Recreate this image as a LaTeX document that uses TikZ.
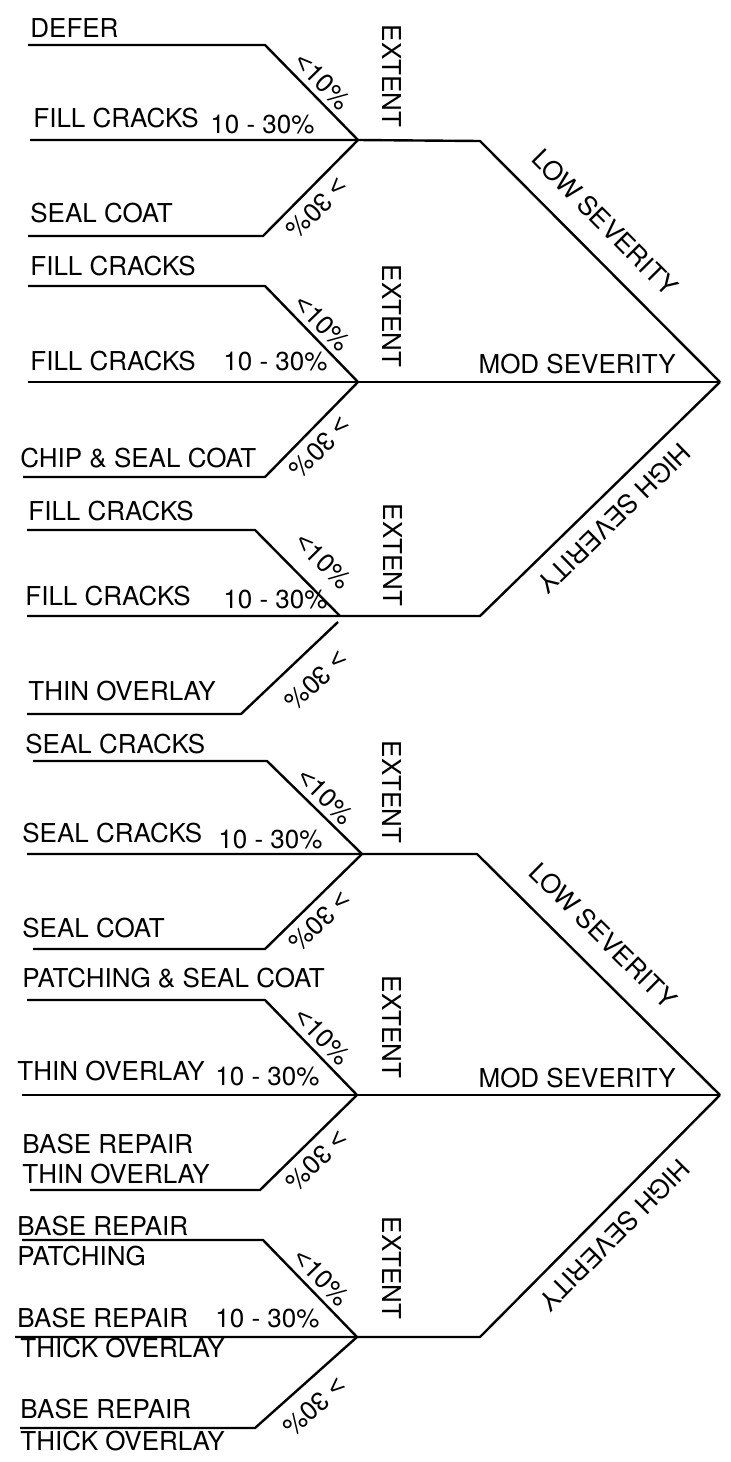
\documentclass[tikz,border=0pt]{standalone}
\usepackage{fontspec}
\setmainfont{TeX Gyre Heros}
\newfontfamily\relfont{Liberation Sans}
\newcommand{\lessthan}{{\relfont <}}
\newcommand{\morethan}{{\relfont >}}
\tikzset{
  ln/.style={line width=1.2pt, line join=round},
  lbl/.style={anchor=base west, inner sep=0pt, font=\fontsize{13}{15}\selectfont},
  pct/.style={font=\fontsize{13}{15}\selectfont, sloped, above, inner sep=2.5pt},
  pctlow/.style={pct, allow upside down, inner sep=4pt},
  ext/.style={rotate=-90, inner sep=0pt, font=\fontsize{13}{15}\selectfont},
  sev/.style={font=\fontsize{13}{15}\selectfont, sloped, above, inner sep=9.9pt},
  sevhigh/.style={sev, allow upside down, inner sep=6.3pt}
}
\begin{document}
\begin{tikzpicture}[x=0.5pt, y=-0.5pt]
  \useasboundingbox (0,0) rectangle (730,1462);

  \coordinate (a1) at (720,382);
  \coordinate (s1) at (480,141);
  \coordinate (h1) at (480,616);
  \coordinate (a2) at (720,1095);
  \coordinate (s2) at (477,854);
  \coordinate (h2) at (480,1337);

  \coordinate (u1a) at (28,45);   \coordinate (u1b) at (265,45);
  \coordinate (m1a) at (30,140);  \coordinate (j1) at (358,140);
  \coordinate (l1a) at (28,236);  \coordinate (l1b) at (263,236);

  \coordinate (u2a) at (28,286);  \coordinate (u2b) at (265,286);
  \coordinate (m2a) at (28,382);  \coordinate (j2) at (358,382);
  \coordinate (l2a) at (23,477);  \coordinate (l2b) at (265,477);

  \coordinate (u3a) at (27,530);  \coordinate (u3b) at (255,530);
  \coordinate (m3a) at (27,616);  \coordinate (j3) at (340,616);
  \coordinate (l3a) at (27,714);  \coordinate (l3b) at (241,714);
  \coordinate (l3c) at (338,622);

  \coordinate (u4a) at (33,761);  \coordinate (u4b) at (267,761);
  \coordinate (m4a) at (27,854);  \coordinate (j4) at (362,854);
  \coordinate (l4a) at (33,949);  \coordinate (l4b) at (265,949);

  \coordinate (u5a) at (27,1000); \coordinate (u5b) at (265,1000);
  \coordinate (m5a) at (22,1095); \coordinate (j5) at (357,1095);
  \coordinate (l5a) at (30,1190); \coordinate (l5b) at (260,1190);

  \coordinate (u6a) at (22,1240); \coordinate (u6b) at (263,1240);
  \coordinate (m6a) at (15,1337); \coordinate (j6) at (357,1337);
  \coordinate (l6a) at (20,1428); \coordinate (l6b) at (255,1428);

  \draw[ln] (u1a) -- (u1b) -- node[pct] (p1u) {\lessthan10\%} (j1);
  \draw[ln] (j1) -- node[pctlow, pos=0.57] (p1l) {\morethan\ 30\%} (l1b) -- (l1a);
  \draw[ln] (m1a) -- (j1) -- (s1) -- node[sev, pos=0.43] (low1) {LOW SEVERITY} (a1);

  \draw[ln] (u2a) -- (u2b) -- node[pct] (p2u) {\lessthan10\%} (j2);
  \draw[ln] (j2) -- node[pctlow, pos=0.55] (p2l) {\morethan\ 30\%} (l2b) -- (l2a);
  \draw[ln] (m2a) -- (j2) -- (a1);

  \draw[ln] (u3a) -- (u3b) -- node[pct, pos=0.58, inner sep=8pt] (p3u) {\lessthan10\%} (j3);
  \draw[ln] (l3c) -- node[pctlow, pos=0.42, inner sep=8.5pt] (p3l) {\morethan\ 30\%} (l3b) -- (l3a);
  \draw[ln] (a1) -- node[sevhigh, pos=0.51] (high1) {HIGH SEVERITY} (h1) -- (m3a);

  \draw[ln] (u4a) -- (u4b) -- node[pct] (p4u) {\lessthan10\%} (j4);
  \draw[ln] (j4) -- node[pctlow, pos=0.57] (p4l) {\morethan\ 30\%} (l4b) -- (l4a);
  \draw[ln] (m4a) -- (j4) -- (s2) -- node[sev, pos=0.43] (low2) {LOW SEVERITY} (a2);

  \draw[ln] (u5a) -- (u5b) -- node[pct] (p5u) {\lessthan10\%} (j5);
  \draw[ln] (j5) -- node[pctlow, pos=0.55] (p5l) {\morethan\ 30\%} (l5b) -- (l5a);
  \draw[ln] (m5a) -- (j5) -- (a2);

  \draw[ln] (u6a) -- (u6b) -- node[pct] (p6u) {\lessthan10\%} (j6);
  \draw[ln] (j6) -- node[pctlow, pos=0.57, inner sep=6.5pt] (p6l) {\morethan\ 30\%} (l6b) -- (l6a);
  \draw[ln] (a2) -- node[sevhigh, pos=0.51] (high2) {HIGH SEVERITY} (h2) -- (m6a);

  \node[lbl, anchor=base east] (mod1) at (676,373) {MOD SEVERITY};
  \node[lbl, anchor=base east] (mod2) at (676,1087) {MOD SEVERITY};

  \node[ext] (x1) at (392,76) {EXTENT};
  \node[ext] (x2) at (392,316) {EXTENT};
  \node[ext] (x3) at (393,555) {EXTENT};
  \node[ext] (x4) at (392,792) {EXTENT};
  \node[ext] (x5) at (392,1027) {EXTENT};
  \node[ext] (x6) at (392,1268) {EXTENT};

  \node[lbl] (n1u) at (30,37) {DEFER};
  \node[lbl] (n1m) at (33,127) {FILL CRACKS};
  \node[lbl] (r1) at (210,133) {10 - 30\%};
  \node[lbl] (n1l) at (30,222) {SEAL COAT};

  \node[lbl] (n2u) at (30,275) {FILL CRACKS};
  \node[lbl] (n2m) at (30,370) {FILL CRACKS};
  \node[lbl] (r2) at (223,370) {10 - 30\%};
  \node[lbl] (n2l) at (20,467) {CHIP \& SEAL COAT};

  \node[lbl] (n3u) at (28,520) {FILL CRACKS};
  \node[lbl] (n3m) at (25,605) {FILL CRACKS};
  \node[lbl] (r3) at (223,608) {10 - 30\%};
  \node[lbl] (n3l) at (28,700) {THIN OVERLAY};

  \node[lbl] (n4u) at (25,753) {SEAL CRACKS};
  \node[lbl] (n4m) at (22,842) {SEAL CRACKS};
  \node[lbl] (r4) at (218,848) {10 - 30\%};
  \node[lbl] (n4l) at (22,937) {SEAL COAT};

  \node[lbl] (n5u) at (22,987) {PATCHING \& SEAL COAT};
  \node[lbl] (n5m) at (17,1080) {THIN OVERLAY};
  \node[lbl] (r5) at (215,1085) {10 - 30\%};
  \node[lbl] (n5l) at (22,1153) {BASE REPAIR};
  \node[lbl] (n5l2) at (22,1183) {THIN OVERLAY};

  \node[lbl] (n6u) at (17,1235) {BASE REPAIR};
  \node[lbl] (n6u2) at (17,1265) {PATCHING};
  \node[lbl] (n6m) at (17,1327) {BASE REPAIR};
  \node[lbl] (r6) at (215,1327) {10 - 30\%};
  \node[lbl] (n6m2) at (20,1357) {THICK OVERLAY};
  \node[lbl] (n6l) at (20,1418) {BASE REPAIR};
  \node[lbl] (n6l2) at (20,1450) {THICK OVERLAY};
\end{tikzpicture}
\end{document}
